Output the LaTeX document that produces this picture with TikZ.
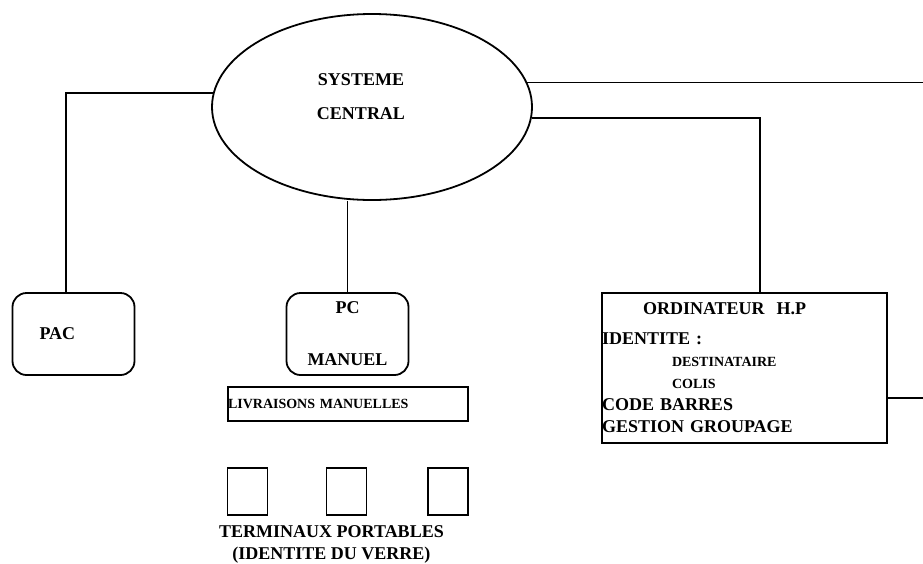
\documentclass[tikz,border=0pt]{standalone}
\usepackage{fontspec}
\setmainfont{Liberation Serif}
\usetikzlibrary{shapes.geometric,positioning,calc}

\begin{document}
\begin{tikzpicture}[
  x=1pt, y=-1pt,
  font=\fontsize{18}{22}\selectfont\bfseries,
  small/.style={font=\fontsize{14}{16}\selectfont\bfseries},
  block/.style={draw, line width=1.8pt, inner sep=0pt},
  unit/.style={block, rounded corners=14pt, minimum width=122pt, minimum height=82pt},
  term/.style={block, minimum width=40pt, minimum height=47pt},
  link/.style={line width=1.6pt}
]
\useasboundingbox (0,0) rectangle (923,563);

\node[block, ellipse, minimum width=320pt, minimum height=186pt,
  label={[align=center, xshift=-11pt, yshift=10pt]center:{SYSTEME\\[12pt]CENTRAL}}] (central) at (372,107) {};

\node[unit, text width=68pt, inner xsep=27pt, align=left] (pac) at (73.5,334) {PAC};
\node[unit, align=center] (pc) at (347.5,334) {PC\\[30pt]MANUEL};
\node[block, small, text width=240pt, minimum height=34pt, align=left] (livr) at (348,404) {LIVRAISONS MANUELLES};

\foreach \x [count=\i] in {247.5,346.5,448}
  \node[term] (term\i) at (\x,491.5) {};
\node[align=center, inner sep=0pt, below=9pt of term2, xshift=-15pt,
  font=\fontsize{18}{22}\selectfont\bfseries] (portables) {TERMINAUX PORTABLES\\(IDENTITE DU VERRE)};

\node[block, text width=285pt, minimum height=150pt, align=left] (ordi) at (744.5,368) {%
\hspace*{41pt}ORDINATEUR\ \ H.P\\[8pt]
IDENTITE :\\
\hspace*{70pt}{\fontsize{14}{22}\selectfont DESTINATAIRE}\\
\hspace*{70pt}{\fontsize{14}{22}\selectfont COLIS}\\
CODE BARRES\\
GESTION GROUPAGE};

% liaisons
\coordinate (exA) at (923,82);
\coordinate (exB) at (923,398);
\draw[link] (central.175) -| ([xshift=-7.5pt]pac.north);
\draw[link] (central.south -| pc.north) -- (pc.north);
\draw[link] (central.9) -- (central.9 -| exA);
\draw[link] (central.-4) -| ([xshift=15.5pt]ordi.north);
\draw[link] (ordi.east |- exB) -- (exB);
\end{tikzpicture}
\end{document}
